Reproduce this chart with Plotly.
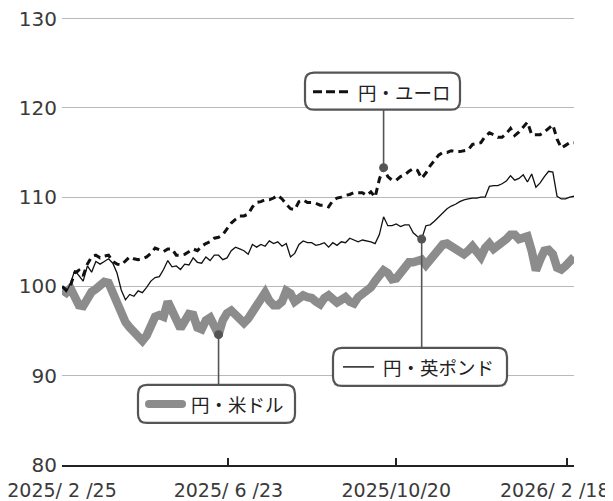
import plotly.graph_objects as go
import pandas as pd

# ---- data (index, 2025/2/25 = 100), sampled every 3 days ----
usd = [99.6, 99.3, 99.8, 98.8, 97.9, 97.8, 98.7, 99.4, 99.7, 100.1,
       100.5, 100.4, 99.2, 97.9, 96.9, 96.0, 95.4, 94.8, 94.3, 93.9,
       94.5, 95.4, 96.6, 96.8, 96.6, 98.3, 97.4, 96.3, 95.3, 96.1,
       96.9, 96.8, 95.4, 95.2, 96.2, 96.5, 95.7, 94.6, 96.2, 97.0,
       97.3, 96.8, 96.2, 95.9, 96.4, 97.2, 98.1, 98.8, 99.3, 98.4,
       97.9, 97.9, 98.3, 99.5, 99.2, 98.3, 98.6, 99.0, 98.8, 98.7,
       98.3, 98.0, 98.7, 99.0, 98.6, 98.2, 98.5, 98.8, 98.3, 98.1,
       98.8, 99.2, 99.4, 99.9, 100.6, 101.2, 101.8, 101.5, 100.8, 100.9,
       101.6, 102.3, 102.7, 102.7, 102.8, 103.0, 102.4, 103.0, 103.3, 104.1,
       104.7, 104.8, 104.5, 104.1, 103.8, 103.6, 104.0, 104.5, 103.9, 103.3,
       104.3, 104.8, 104.2, 104.5, 104.9, 105.3, 105.8, 105.8, 105.3, 105.5,
       105.6, 104.0, 101.8, 103.0, 104.0, 104.1, 103.6, 102.1, 101.9, 102.3,
       103.0, 103.3]
gbp = [100.0, 99.4, 100.3, 101.8, 101.2, 100.6, 102.3, 101.6, 102.8, 102.5,
       102.8, 103.1, 102.6, 101.5, 99.6, 98.5, 99.1, 98.9, 99.5, 99.3,
       99.9, 100.6, 101.0, 101.1, 101.9, 102.9, 102.2, 102.3, 101.9, 102.5,
       102.4, 103.2, 102.7, 102.6, 103.3, 102.9, 103.5, 103.5, 103.0, 103.2,
       104.0, 104.4, 104.2, 104.0, 103.6, 104.7, 104.4, 104.7, 104.5, 105.1,
       104.8, 105.0, 104.5, 104.8, 103.3, 103.7, 104.7, 105.1, 104.9, 104.9,
       104.6, 104.7, 104.9, 104.4, 104.9, 104.6, 105.0, 104.9, 105.4, 105.2,
       105.0, 105.2, 105.1, 105.0, 104.8, 105.8, 107.8, 106.8, 106.8, 107.0,
       106.7, 106.9, 106.9, 106.0, 105.6, 105.3, 106.8, 106.9, 107.3, 107.8,
       108.3, 108.7, 109.0, 109.2, 109.5, 109.7, 109.8, 109.9, 109.9, 110.0,
       110.0, 111.2, 111.3, 111.3, 111.5, 111.8, 112.4, 111.9, 112.1, 112.5,
       111.7, 112.6, 111.1, 111.6, 112.3, 112.9, 112.8, 110.1, 109.8, 109.8,
       110.0, 110.1]
eur = [100.0, 99.6, 100.1, 101.5, 101.8, 101.2, 102.5, 103.3, 103.5, 103.2,
       103.4, 103.5, 102.8, 102.5, 102.4, 102.9, 103.3, 103.1, 103.0, 103.1,
       103.3, 103.7, 104.3, 104.1, 103.9, 104.2, 104.2, 103.5, 103.5, 103.6,
       103.9, 104.2, 104.0, 104.5, 104.8, 105.0, 105.4, 105.5, 105.8, 106.5,
       107.1, 107.5, 107.9, 107.9, 108.1, 108.9, 109.4, 109.5, 109.7, 109.7,
       109.9, 110.2, 109.8, 109.2, 108.7, 108.6, 109.5, 109.7, 109.4, 109.4,
       109.3, 109.1, 109.1, 108.9, 109.6, 109.9, 110.0, 110.2, 110.3, 110.5,
       110.5, 110.5, 110.2, 110.6, 110.0, 112.0, 113.3, 112.3, 111.9, 111.9,
       112.3, 112.5, 112.9, 113.2, 113.0, 112.1, 112.7, 113.5, 114.1, 114.7,
       115.0, 115.0, 115.2, 115.1, 115.1, 115.2, 115.3, 115.9, 116.0, 116.1,
       116.8, 117.2, 117.0, 116.7, 116.7, 117.1, 117.7, 116.9, 117.3, 117.8,
       118.4, 117.0, 117.0, 117.0, 117.3, 117.7, 118.1, 116.5, 115.5, 115.8,
       116.1, 116.1]
dates = pd.date_range("2025-02-25", periods=len(usd), freq="3D")

series_names = ["円・米ドル", "円・英ポンド", "円・ユーロ"]
tick_dates = ["2025-02-25", "2025-06-23", "2025-10-20", "2026-02-18"]
tick_labels = ["2025/ 2 /25", "2025/ 6 /23", "2025/10/20", "2026/ 2 /18"]
y_ticks = [80, 90, 100, 110, 120, 130]
# index of the highlighted point for each series
mark_idx = {"eur": 76, "gbp": 85, "usd": 37}

# page has an 8px body margin: size the figure so it fills the 613x501 window
OFF = 8
YMIN, YMAX = 80, 130.4
UNIT = 446 / 50.0          # pixels per index point (130 at y=19, 80 at y=465)
W, H = 613 - OFF, 501 - OFF
TOP = 19 - (YMAX - 130) * UNIT   # page y of the top of the plot area
L, R, B = 62 - OFF, 39, 36
T = TOP - OFF
PW, PH = W - L - R, H - T - B
JP_FONT = "Noto Sans CJK JP, Noto Sans, sans-serif"
NUM_FONT = "DejaVu Sans, Noto Sans, sans-serif"
BOX = "#555555"
GRAY = "#8c8c8c"
TXT = "#3a3a3a"


def px(x):  # page pixel -> paper
    return (x - OFF - L) / PW


def py(y):
    return (OFF + T + PH - y) / PH


def rrect(x0, y0, x1, y1, r):
    return (f"M {px(x0+r)},{py(y0)} L {px(x1-r)},{py(y0)} Q {px(x1)},{py(y0)} {px(x1)},{py(y0+r)} "
            f"L {px(x1)},{py(y1-r)} Q {px(x1)},{py(y1)} {px(x1-r)},{py(y1)} "
            f"L {px(x0+r)},{py(y1)} Q {px(x0)},{py(y1)} {px(x0)},{py(y1-r)} "
            f"L {px(x0)},{py(y0+r)} Q {px(x0)},{py(y0)} {px(x0+r)},{py(y0)} Z")


def yval(ypix):
    return YMAX - (ypix - OFF - T) * (YMAX - YMIN) / PH


fig = go.Figure()
fig.add_trace(go.Scatter(x=dates, y=usd, mode="lines", name=series_names[0],
                         line=dict(color=GRAY, width=8.5)))
fig.add_trace(go.Scatter(x=dates, y=gbp, mode="lines", name=series_names[1],
                         line=dict(color="#111111", width=1.3)))
fig.add_trace(go.Scatter(x=dates, y=eur, mode="lines", name=series_names[2],
                         line=dict(color="#111111", width=3, dash="7px,5px")))

shapes = []
# connector lines
for key, arr, ypix in [("eur", eur, 110), ("gbp", gbp, 348), ("usd", usd, 385)]:
    i = mark_idx[key]
    shapes.append(dict(type="line", xref="x", yref="y", x0=dates[i], x1=dates[i],
                       y0=arr[i], y1=yval(ypix), line=dict(color=BOX, width=1.6), layer="above"))

# boxes (page pixels)
boxes = [(305, 73, 460, 110), (333, 348, 507, 386), (138, 385, 295, 423)]
for (x0, y0, x1, y1) in boxes:
    shapes.append(dict(type="path", xref="paper", yref="paper", path=rrect(x0, y0, x1, y1, 9),
                       fillcolor="white", line=dict(color=BOX, width=2.2), layer="above"))

# legend keys inside boxes
shapes.append(dict(type="line", xref="paper", yref="paper", x0=px(313), x1=px(352), y0=py(92), y1=py(92),
                   line=dict(color="#111111", width=3, dash="9px,4px"), layer="above"))
shapes.append(dict(type="line", xref="paper", yref="paper", x0=px(343), x1=px(374), y0=py(367), y1=py(367),
                   line=dict(color="#111111", width=1.4), layer="above"))
shapes.append(dict(type="path", xref="paper", yref="paper", path=rrect(145, 400, 186, 408, 4),
                   fillcolor=GRAY, line=dict(width=0), layer="above"))

fig.add_trace(go.Scatter(
    x=[dates[mark_idx["eur"]], dates[mark_idx["gbp"]], dates[mark_idx["usd"]]],
    y=[eur[mark_idx["eur"]], gbp[mark_idx["gbp"]], usd[mark_idx["usd"]]],
    mode="markers", marker=dict(color=BOX, size=9), showlegend=False))

annotations = [
    dict(text=series_names[2], x=px(356), y=py(92)),
    dict(text=series_names[1], x=px(381), y=py(367)),
    dict(text=series_names[0], x=px(189), y=py(404)),
]
for a in annotations:
    a.update(xref="paper", yref="paper", xanchor="left", yanchor="middle", showarrow=False,
             font=dict(family=JP_FONT, size=18.5, color="#222222"))

# last date label sits flush with the right edge of the chart (as in the original)
annotations.append(dict(text=tick_labels[-1], xref="paper", yref="paper",
                        x=px(612), y=py(490), xanchor="right", yanchor="middle",
                        showarrow=False, font=dict(family=NUM_FONT, size=19, color=TXT)))
axis_labels = tick_labels[:-1] + [""]

fig.update_layout(
    width=W, height=H,
    margin=dict(l=L, r=R, t=T, b=B, autoexpand=False),
    paper_bgcolor="white", plot_bgcolor="white",
    showlegend=False,
    shapes=shapes, annotations=annotations,
    font=dict(family=NUM_FONT, size=19, color=TXT),
)
fig.update_xaxes(
    type="date", range=[dates[0], dates[-1]],
    tickvals=tick_dates, ticktext=axis_labels,
    showgrid=False, zeroline=False, automargin=False,
    showline=True, linecolor="#222222", linewidth=2,
    ticks="inside", ticklen=7, tickwidth=2, tickcolor="#222222",
    ticklabelstandoff=7, ticklabeloverflow="allow",
    tickfont=dict(family=NUM_FONT, size=19, color=TXT),
)
fig.update_yaxes(
    range=[YMIN, YMAX], tickvals=y_ticks, automargin=False,
    showgrid=True, gridcolor="#b9b9b9", gridwidth=1.2,
    zeroline=False, showline=False,
    ticks="", ticklabelstandoff=4, ticklabeloverflow="allow",
    tickfont=dict(family=NUM_FONT, size=20, color=TXT),
)

fig.write_html("out.html")
